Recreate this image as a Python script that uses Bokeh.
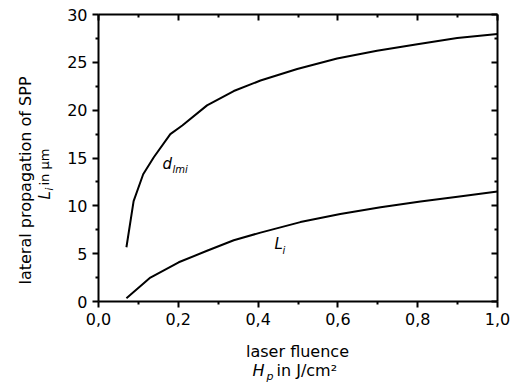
import math
from bokeh.plotting import figure
from bokeh.models import Range1d, LinearAxis, FixedTicker, CustomJSTickFormatter, Label
from bokeh.embed import file_html
from bokeh.resources import INLINE

# data
x_dlmi = [0.070, 0.088, 0.112, 0.139, 0.180, 0.210, 0.272, 0.339, 0.406, 0.498, 0.598, 0.698, 0.799, 0.899, 1.000]
y_dlmi = [5.67, 10.5, 13.3, 15.1, 17.5, 18.4, 20.5, 22.0, 23.1, 24.3, 25.4, 26.2, 26.9, 27.55, 27.97]
x_li = [0.070, 0.130, 0.201, 0.272, 0.339, 0.406, 0.506, 0.606, 0.707, 0.807, 0.900, 1.000]
y_li = [0.35, 2.5, 4.1, 5.3, 6.4, 7.2, 8.3, 9.15, 9.85, 10.45, 10.95, 11.5]
x_ticks = [0.0, 0.2, 0.4, 0.6, 0.8, 1.0]
x_minor = [0.1, 0.3, 0.5, 0.7, 0.9]
y_ticks = [0, 5, 10, 15, 20, 25, 30]
y_minor = [2.5, 7.5, 12.5, 17.5, 22.5, 27.5]

FONT = "DejaVu Sans"
W, H = 518, 392
# plot box in canvas pixels
PL, PR, PT, PB = 98, 497, 14, 301
XS = (PR - PL) / 1.0
YS = (PB - PT) / 30.0

p = figure(width=W, height=H, output_backend="svg", toolbar_location=None,
           x_range=Range1d(-PL / XS, (W - PL) / XS),
           y_range=Range1d(-(H - PB) / YS, PB / YS),
           min_border=0, min_border_left=0, min_border_right=0,
           min_border_top=0, min_border_bottom=0,
           x_axis_location=None, y_axis_location=None)
p.grid.visible = False
p.outline_line_color = None
p.background_fill_color = "white"
p.border_fill_color = "white"

fmt = CustomJSTickFormatter(code="return tick.toFixed(1).replace('.', ',');")
fmt_y = CustomJSTickFormatter(code="return tick.toFixed(0);")
fmt_none = CustomJSTickFormatter(code="return '';")

def style(ax, inward=False, labels=True):
    ax.axis_line_width = 2
    ax.axis_line_color = "black"
    ax.major_tick_line_width = 2
    ax.minor_tick_line_width = 2
    ax.major_tick_line_color = "black"
    ax.minor_tick_line_color = "black"
    if inward:
        ax.major_tick_in = 6
        ax.major_tick_out = 0
        ax.minor_tick_in = 3
        ax.minor_tick_out = 0
    else:
        ax.major_tick_in = 0
        ax.major_tick_out = 6
        ax.minor_tick_in = 0
        ax.minor_tick_out = 3
    ax.major_label_text_font = FONT
    ax.major_label_text_font_size = "16px" if labels else "1px"
    ax.major_label_text_color = "black"
    ax.major_label_standoff = 5 if labels else 0

xb = LinearAxis(ticker=FixedTicker(ticks=x_ticks, minor_ticks=x_minor), formatter=fmt,
                fixed_location=0, bounds=(0, 1))
style(xb)
xt = LinearAxis(ticker=FixedTicker(ticks=x_ticks, minor_ticks=x_minor), formatter=fmt_none,
                fixed_location=30, bounds=(0, 1))
style(xt, inward=True, labels=False)
yl = LinearAxis(ticker=FixedTicker(ticks=y_ticks, minor_ticks=y_minor), formatter=fmt_y,
                fixed_location=0, bounds=(0, 30))
style(yl)
yr = LinearAxis(ticker=FixedTicker(ticks=y_ticks, minor_ticks=y_minor), formatter=fmt_none,
                fixed_location=1, bounds=(0, 30))
style(yr, inward=True, labels=False)
p.add_layout(xb, "below")
p.add_layout(xt, "above")
p.add_layout(yl, "left")
p.add_layout(yr, "right")

p.line(x_dlmi, y_dlmi, line_color="black", line_width=2)
p.line(x_li, y_li, line_color="black", line_width=2)

SHIFT = 5  # baseline correction

def lab(text, px, py, size, style="normal", align="left", angle=0.0):
    if angle:
        px -= SHIFT
    else:
        py -= SHIFT
    p.add_layout(Label(x=(px - PL) / XS, y=(PB - py) / YS,
                       text=text, text_font=FONT,
                       text_font_size=f"{size}px", text_font_style=style,
                       text_align=align, text_baseline="alphabetic",
                       text_color="black", angle=angle))

# curve labels
lab("d", 162, 168, 15, "italic")
lab("lmi", 172, 174, 10, "italic")
lab("L", 274, 248, 15, "italic")
lab("i", 282, 255, 10, "italic")

# x axis label
lab("laser fluence", 297, 356, 16, "normal", "center")
lab("H", 252, 375, 16, "italic")
lab("p", 266, 381, 11, "italic")
lab("in J/cm²", 276, 375, 16, "normal")

# y axis label (rotated)
A = math.pi / 2
lab("lateral propagation of SPP", 30, 180, 16, "normal", "center", A)
lab("L", 49, 199, 15, "italic", "left", A)
lab("i", 54, 190, 10, "italic", "left", A)
lab("in µm", 49, 185, 13, "normal", "left", A)

open("out.html", "w").write(file_html(p, INLINE))
